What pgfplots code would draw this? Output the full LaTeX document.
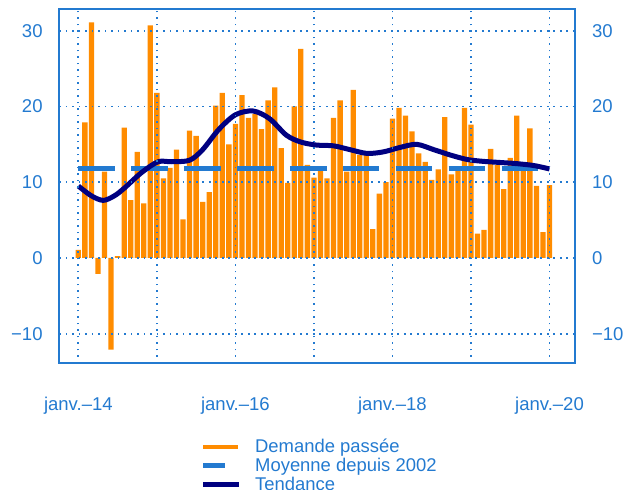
\documentclass[border=0pt]{standalone}
\usepackage{fontspec}
\setmainfont{Liberation Sans}
\usepackage{pgfplots}
\pgfplotsset{compat=1.18}
\definecolor{mainblue}{RGB}{35,122,208}
\definecolor{barorange}{RGB}{255,140,0}
\definecolor{navy}{RGB}{0,0,128}
\begin{document}
\begin{tikzpicture}
\pgfplotsset{
  common/.style={
    scale only axis, width=516bp, height=354.3bp,
    xmin=-2.91, xmax=75.94, ymin=-13.9, ymax=32.86,
    ytick={-10,0,10,20,30},
    yticklabels={−10,0,10,20,30},
    major tick length=0pt,
    tick label style={font=\fontsize{18.6}{22}\selectfont, text=mainblue, inner sep=0pt},
    yticklabel shift=16.5bp,
  }
}
\begin{axis}[common,
  axis on top,
  xtick={0,12,...,72},
  xticklabels={janv.–14,,janv.–16,,janv.–18,,janv.–20},
  xticklabel shift=34bp,
  xticklabel style={anchor=north},
  grid=major,
  major grid style={mainblue, line width=1.7bp, dash pattern=on 1.7bp off 4.8bp},
  axis line style={mainblue, line width=2bp},
  legend style={at={(axis description cs:0.274,-0.2151)}, anchor=north west,
    draw=none, fill=none, inner sep=0pt, outer sep=0pt,
    font=\fontsize{18.5}{22}\selectfont, text=mainblue,
    nodes={inner sep=0pt, text height=13.3bp, text depth=5.4bp},
    /tikz/every odd column/.append style={column sep=13.5bp}},
  legend cell align=left,
]
\addplot[ybar, bar width=5.3bp, fill=barorange, draw=none, forget plot] coordinates {
(0,1.06) (1,17.9) (2,31.1) (3,-2.1) (4,11.4) (5,-12.1) (6,0.26) (7,17.2) (8,7.65) (9,14.0) (10,7.2) (11,30.7)
(12,21.8) (13,10.5) (14,11.9) (15,14.3) (16,5.1) (17,16.8) (18,16.1) (19,7.4) (20,8.7) (21,20.1) (22,21.8) (23,15.0)
(24,17.7) (25,21.5) (26,18.5) (27,19.0) (28,17.0) (29,20.8) (30,22.5) (31,14.5) (32,9.9) (33,20.0) (34,27.6) (35,12.3)
(36,10.6) (37,11.6) (38,10.5) (39,18.5) (40,20.8) (41,11.4) (42,22.2) (43,13.6) (44,13.6) (45,3.8) (46,8.5) (47,10.0)
(48,18.4) (49,19.8) (50,18.8) (51,16.7) (52,13.8) (53,12.7) (54,10.3) (55,11.7) (56,18.6) (57,11.05) (58,11.7) (59,19.8)
(60,17.6) (61,3.2) (62,3.7) (63,14.4) (64,12.3) (65,9.1) (66,13.2) (67,18.8) (68,12.0) (69,17.1) (70,9.5) (71,3.4)
(72,9.6)
};
\addplot[mainblue, line width=5bp, dash pattern=on 36.6bp off 16.3bp, forget plot] coordinates {(0,11.85) (72,11.85)};
\addplot[navy, line width=5bp, smooth, forget plot] coordinates {
(0,9.5) (2,8.2) (3.8,7.6) (5.5,8.2) (7,9.2) (9.7,11.3) (12.2,12.7) (14.3,12.7) (17,12.9) (19,14.3) (21.4,16.9)
(24,18.9) (26.7,19.4) (29.2,18.4) (31.8,16.2) (34,15.3) (36.4,14.9) (39,14.8) (41.5,14.3) (44.1,13.8) (46.6,14.0)
(49.2,14.6) (51.7,15.0) (54.3,14.3) (56.8,13.6) (59.4,13.0) (61.9,12.75) (64.5,12.6) (67,12.45) (69.6,12.2) (72,11.75)
};
\addlegendimage{legend image code/.code={\path[draw=none] (0bp,2bp) -- (36bp,2bp); \draw[barorange, line width=4.5bp] (0bp,2bp) -- (35bp,2bp);}}
\addlegendentry{Demande passée}
\addlegendimage{legend image code/.code={\path[draw=none] (0bp,2bp) -- (36bp,2bp); \draw[mainblue, line width=4.5bp] (0bp,2bp) -- (21.6bp,2bp);}}
\addlegendentry{Moyenne depuis 2002}
\addlegendimage{legend image code/.code={\path[draw=none] (0bp,2bp) -- (36bp,2bp); \draw[navy, line width=5bp] (0bp,2bp) -- (36bp,2bp);}}
\addlegendentry{Tendance}
\end{axis}
\begin{axis}[common,
  xtick=\empty,
  yticklabel pos=right,
  axis line style={draw=none},
]
\end{axis}
\pgfresetboundingbox
\path[use as bounding box] (-59.3bp,-126.7bp) rectangle (563.7bp,363.3bp);
\end{tikzpicture}
\end{document}
